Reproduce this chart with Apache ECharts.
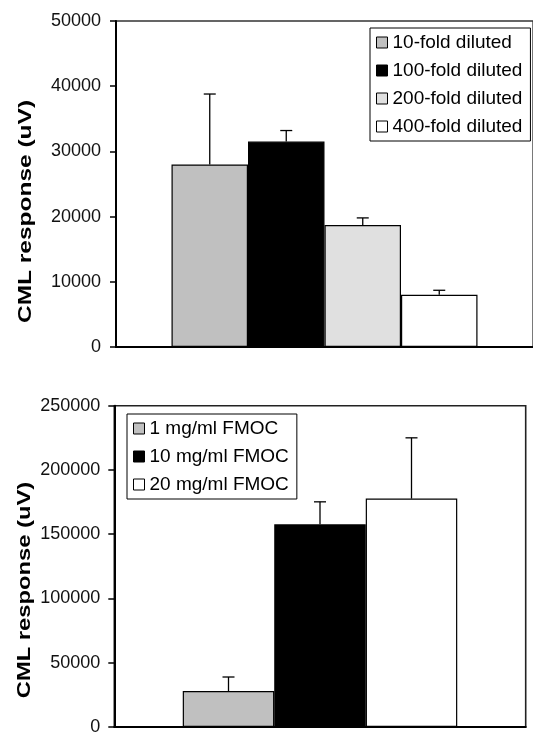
<!DOCTYPE html>
<html>
<head>
<meta charset="utf-8">
<script src="https://cdn.jsdelivr.net/npm/echarts@6/dist/echarts.min.js"></script>
<style>
html,body{margin:0;padding:0;background:#fff;}
#chart{width:533px;height:736px;}
</style>
</head>
<body>
<div id="chart"></div>
<script>
// ---- data ----
const topNames = ['10-fold diluted', '100-fold diluted', '200-fold diluted', '400-fold diluted'];
const topMeans = [28000, 31500, 18700, 8000];
const topSD = [10800, 1700, 1100, 700];
const topTicks = { min: 0, max: 50000, interval: 10000 };

const botNames = ['1 mg/ml FMOC', '10 mg/ml FMOC', '20 mg/ml FMOC'];
const botMeans = [28000, 157700, 177700];
const botSD = [10900, 17500, 47300];
const botTicks = { min: 0, max: 250000, interval: 50000 };

const yTitle = 'CML response (uV)';

// ---- styles ----
const topColors = ['#c0c0c0', '#000000', '#e0e0e0', '#ffffff'];
const botColors = ['#c0c0c0', '#000000', '#ffffff'];
const FONT = "'Liberation Sans', Arial, sans-serif";
const topBarW = 76.5;
const botBarW = 91.5;

const chart = echarts.init(document.getElementById('chart'), null, { renderer: 'canvas' });

function barSeries(names, means, colors, axisIdx, barW) {
  return names.map((n, i) => ({
    name: n,
    type: 'bar',
    xAxisIndex: axisIdx,
    yAxisIndex: axisIdx,
    barWidth: barW,
    barGap: '0%',
    data: [means[i]],
    itemStyle: { color: colors[i], borderColor: '#000', borderWidth: 1.2 },
    emphasis: { disabled: true },
    animation: false,
    z: 2
  }));
}

function errSeries(means, sds, axisIdx, barW) {
  const n = means.length;
  return {
    type: 'custom',
    xAxisIndex: axisIdx,
    yAxisIndex: axisIdx,
    data: means.map((m, i) => [0, m, m + sds[i], i]),
    renderItem: function (params, api) {
      const idx = api.value(3);
      const base = api.coord([0, api.value(1)]);
      const top = api.coord([0, api.value(2)]);
      const x = base[0] + (idx - (n - 1) / 2) * barW;
      const cap = 6;
      return {
        type: 'group',
        children: [
          { type: 'line', shape: { x1: x, y1: base[1], x2: x, y2: top[1] }, style: { stroke: '#000', lineWidth: 1.3 } },
          { type: 'line', shape: { x1: x - cap, y1: top[1], x2: x + cap, y2: top[1] }, style: { stroke: '#000', lineWidth: 1.3 } }
        ]
      };
    },
    silent: true,
    animation: false,
    z: 5
  };
}

function yAx(gridIdx, ticks, margin) {
  return {
    type: 'value',
    gridIndex: gridIdx,
    min: ticks.min,
    max: ticks.max,
    interval: ticks.interval,
    splitLine: { show: false },
    axisLine: { show: true, lineStyle: { color: '#000', width: 2 } },
    axisTick: { show: true, length: 6, lineStyle: { color: '#000', width: 1.5 } },
    axisLabel: { color: '#111', fontSize: 18, fontFamily: FONT, margin: margin, formatter: v => String(v) }
  };
}

function xAx(gridIdx) {
  return {
    type: 'category',
    gridIndex: gridIdx,
    data: [''],
    axisLine: { show: true, lineStyle: { color: '#000', width: 2 } },
    axisTick: { show: false },
    axisLabel: { show: false }
  };
}

function legend(names, left, top) {
  return {
    data: names,
    orient: 'vertical',
    left: left,
    top: top,
    icon: 'rect',
    itemWidth: 11,
    itemHeight: 11,
    itemGap: 9,
    padding: [5, 8, 5, 6],
    borderColor: '#000',
    borderWidth: 1,
    backgroundColor: '#fff',
    selectedMode: false,
    itemStyle: { borderColor: '#000', borderWidth: 1 },
    textStyle: { color: '#000', fontSize: 19, fontFamily: FONT, lineHeight: 19 }
  };
}

function titleText(x, y, stretch) {
  return {
    type: 'text', x: x, y: y, rotation: Math.PI / 2, scaleX: stretch, scaleY: 1,
    style: { text: yTitle, font: 'bold 18px ' + FONT, fill: '#000', align: 'center', verticalAlign: 'middle' }
  };
}

const option = {
  backgroundColor: '#fff',
  animation: false,
  grid: [
    { left: 116, top: 21, width: 419, height: 326, show: true, borderColor: '#333', borderWidth: 1.3, backgroundColor: 'transparent' },
    { left: 114.3, top: 405.7, width: 411.4, height: 326, show: true, borderColor: '#222', borderWidth: 1.6, backgroundColor: 'transparent' }
  ],
  xAxis: [xAx(0), xAx(1)],
  yAxis: [yAx(0, topTicks, 15), yAx(1, botTicks, 14)],
  legend: [legend(topNames, 370, 28), legend(botNames, 127, 414)],
  graphic: [titleText(26, 211.5, 1.36), titleText(25.5, 590, 1.32)],
  series: [
    ...barSeries(topNames, topMeans, topColors, 0, topBarW),
    errSeries(topMeans, topSD, 0, topBarW),
    ...barSeries(botNames, botMeans, botColors, 1, botBarW),
    errSeries(botMeans, botSD, 1, botBarW)
  ]
};

chart.setOption(option);
</script>
</body>
</html>
